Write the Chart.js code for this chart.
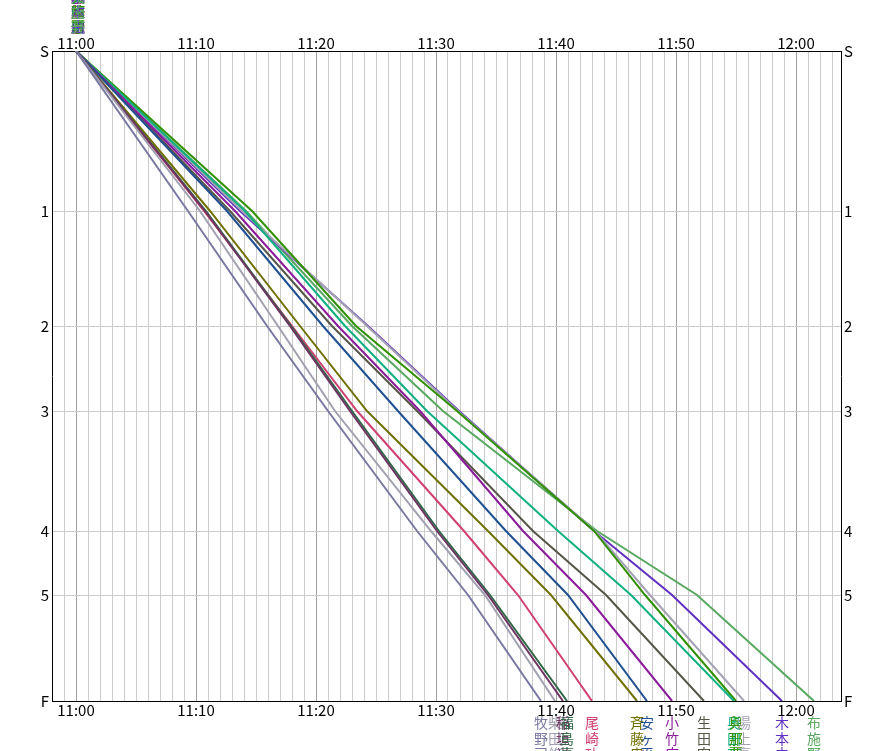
<!DOCTYPE html>
<html>
<head>
<meta charset="utf-8">
<script src="https://cdn.jsdelivr.net/npm/chart.js@4/dist/chart.umd.min.js"></script>
<style>
  html, body { margin: 0; padding: 0; background: #fff; }
  canvas { display: block; }
</style>
</head>
<body>
<canvas id="race" width="893" height="751"></canvas>
<script>
// checkpoints down the course (km from the start)
const checkpointLabels = ['S', '1', '2', '3', '4', '5', 'F'];
const checkpointKm = [0, 1.60, 2.75, 3.60, 4.80, 5.44, 6.50];

const runnerNames = ['牧野司', '柴田修', '稲垣光', '福島亮', '尾崎功', '斉藤忠', '安ヶ平',
    '小竹広', '生田宏', '奥田直', '與那覇', '湯上亮', '木本由', '布施野'];

// minutes after 11:00 when each runner passed 1,2,3,4,5,F
const splits = [
    [9.33, 15.92, 21.00, 28.42, 32.67, 38.75],
    [10.33, 16.83, 21.58, 29.58, 34.08, 39.92],
    [10.75, 17.83, 22.83, 30.08, 34.33, 40.58],
    [10.83, 17.92, 23.00, 30.25, 34.50, 40.92],
    [10.67, 18.00, 23.42, 32.33, 36.83, 43.00],
    [11.17, 18.67, 24.25, 34.33, 39.58, 46.75],
    [12.58, 20.58, 26.83, 35.83, 41.00, 47.58],
    [13.25, 21.83, 28.67, 37.25, 42.50, 49.67],
    [12.83, 21.33, 28.42, 38.08, 44.17, 52.33],
    [14.08, 22.42, 29.25, 40.17, 46.25, 54.83],
    [14.67, 23.33, 31.75, 43.17, 47.42, 55.00],
    [13.83, 24.25, 31.83, 43.25, 47.83, 55.67],
    [13.67, 24.33, 31.92, 43.17, 49.67, 58.83],
    [14.17, 23.00, 30.58, 43.42, 51.75, 61.50]
];

const lineColors = ['#7878a0', '#a0a0b0', '#6e3462', '#306848', '#d04070', '#707000', '#205090',
    '#8a1a9a', '#555548', '#10b080', '#309000', '#a4a2b4', '#6030c0', '#58a860'];

const gridCol = '#cccccc'
const majorGridCol = '#a0a0a0'
const tickFont = { family: '"Noto Sans CJK JP"', size: 15, lineHeight: 1 }

const clockLabel = (v) => {
    if (v % 10 !== 0) return ''
    const h = 11 + Math.floor(v / 60)
    const m = v % 60
    return h + ':' + String(m).padStart(2, '0')
}

const minuteTicks = (scale) => {
    const t = []
    for (let m = -1; m <= 63; m++) t.push({ value: m })
    scale.ticks = t
}

const datasets = runnerNames.map((name, i) => ({
    label: name,
    data: [{ x: 0, y: checkpointKm[0] }].concat(splits[i].map((t, k) => ({ x: t, y: checkpointKm[k + 1] }))),
    borderColor: lineColors[i],
    borderWidth: 2,
    pointRadius: 0,
    tension: 0
}))

// names written vertically at the start and under each finish time
const namePlugin = {
    id: 'runnerNames',
    afterDraw(chart) {
        const ctx = chart.ctx
        const xs = chart.scales.x
        ctx.save()
        ctx.font = '14px "Noto Sans CJK JP"'
        ctx.textAlign = 'center'
        ctx.textBaseline = 'middle'
        runnerNames.forEach((name, i) => {
            const chars = [...name]
            ctx.fillStyle = lineColors[i]
            const sx = xs.getPixelForValue(0) + 2
            chars.forEach((c, k) => ctx.fillText(c, sx, 27 - (chars.length - 1 - k) * 15))
            const fx = xs.getPixelForValue(splits[i][splits[i].length - 1])
            chars.forEach((c, k) => ctx.fillText(c, fx, chart.chartArea.bottom + 22 + k * 15.5))
        })
        ctx.restore()
    }
}

const ctx = document.getElementById('race').getContext('2d');
const raceChart = new Chart(ctx, {
    type: 'line',
    data: { datasets: datasets },
    plugins: [namePlugin],
    options: {
        responsive: false,
        animation: false,
        layout: { padding: 0 },
        plugins: {
            legend: { display: false },
            tooltip: { enabled: false }
        },
        scales: {
            x: {
                type: 'linear',
                position: 'bottom',
                min: -2,
                max: 63.75,
                afterBuildTicks: minuteTicks,
                afterFit: (s) => { s.height = 50 },
                grid: {
                    drawTicks: false,
                    color: (c) => (c.tick && c.tick.value % 10 === 0) ? majorGridCol : gridCol
                },
                border: { display: true, color: '#000' },
                ticks: {
                    autoSkip: false, maxRotation: 0, padding: 2,
                    color: '#000', font: tickFont,
                    callback: clockLabel
                }
            },
            x2: {
                type: 'linear',
                position: 'top',
                min: -2,
                max: 63.75,
                afterBuildTicks: minuteTicks,
                afterFit: (s) => { s.height = 51 },
                grid: { display: false, drawTicks: false },
                border: { display: true, color: '#000' },
                ticks: {
                    autoSkip: false, maxRotation: 0, padding: 0,
                    color: '#000', font: tickFont,
                    callback: clockLabel
                }
            },
            y: {
                type: 'linear',
                position: 'left',
                reverse: true,
                min: 0,
                max: 6.5,
                afterBuildTicks: (s) => { s.ticks = checkpointKm.map(v => ({ value: v })) },
                afterFit: (s) => { s.width = 52 },
                grid: { drawTicks: false, color: gridCol },
                border: { display: true, color: '#000' },
                ticks: {
                    autoSkip: false, padding: 3, color: '#000', font: tickFont,
                    callback: (v, i) => checkpointLabels[i]
                }
            },
            y2: {
                type: 'linear',
                position: 'right',
                reverse: true,
                min: 0,
                max: 6.5,
                afterBuildTicks: (s) => { s.ticks = checkpointKm.map(v => ({ value: v })) },
                afterFit: (s) => { s.width = 52 },
                grid: { display: false, drawTicks: false },
                border: { display: true, color: '#000' },
                ticks: {
                    autoSkip: false, padding: 3, color: '#000', font: tickFont,
                    callback: (v, i) => checkpointLabels[i]
                }
            }
        }
    }
});
</script>
</body>
</html>
